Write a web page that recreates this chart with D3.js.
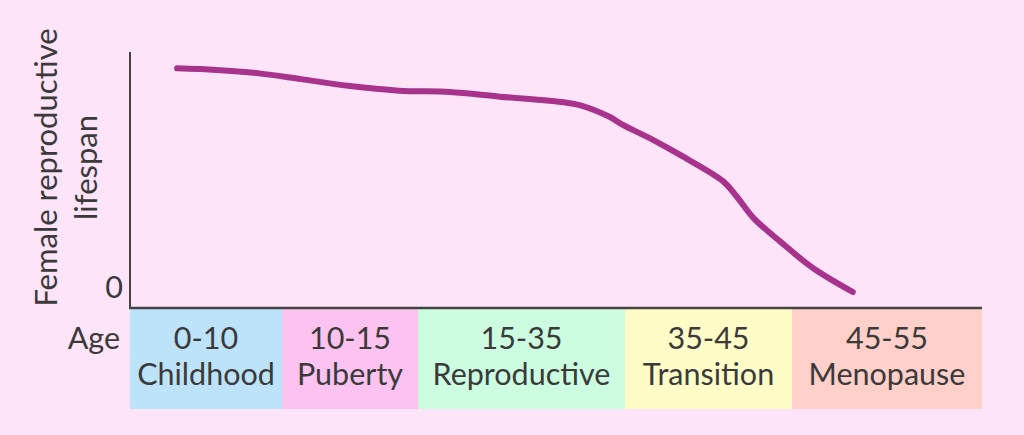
<!DOCTYPE html>
<html><head><meta charset="utf-8">
<script src="https://cdn.jsdelivr.net/npm/d3@7"></script>
<style>html,body{margin:0;padding:0;background:#fee4f8;}svg{display:block;}</style>
</head><body>
<script>
const stageRanges = ["0-10","10-15","15-35","35-45","45-55"];
const stageNames = ["Childhood","Puberty","Reproductive","Transition","Menopause"];
const stageBounds = [0,10,15,35,45,55];
const stageColors = ["#bde3fb","#fdc3f0","#ccfde0","#fffcc8","#ffcfc9"];
const ages = [3.1,5.7,8.5,10.7,12.5,14.3,18.1,22.9,27.7,30.6,33.5,34.8,36.7,38.3,40.9,41.7,42.7,44.3,46.1,48.2];
const lifespan = [93.2,92.5,91.1,88.7,85.8,83.9,83.3,81.4,79.7,77.9,73.0,69.6,63.3,57.1,46.0,39.7,30.8,21.0,10.0,0];
const yTicks = [0];
const yTitle = ["Female reproductive","lifespan"];
const xTitle = "Age";

const W=1024,H=435;
const svg=d3.select("body").append("svg").attr("width",W).attr("height",H);
svg.append("rect").attr("width",W).attr("height",H).attr("fill","#fee4f8");
const font="Lato, 'Open Sans', sans-serif";
const txt="#3a3a3a";
const fs=30.5;

const x=d3.scaleLinear().domain(stageBounds).range([130,282,418,625,792,982]);
const y=d3.scaleLinear().domain([0,100]).range([292,52]);

// stage boxes
const stages=stageRanges.map((r,i)=>({r,n:stageNames[i],a:stageBounds[i],b:stageBounds[i+1],c:stageColors[i]}));
const g=svg.append("g");
g.selectAll("rect.st").data(stages).join("rect").attr("class","st")
 .attr("x",d=>x(d.a)).attr("width",d=>x(d.b)-x(d.a)).attr("y",309).attr("height",100).attr("fill",d=>d.c);
g.selectAll("text.r").data(stages).join("text").attr("class","r")
 .attr("x",d=>(x(d.a)+x(d.b))/2).attr("y",349).attr("text-anchor","middle")
 .attr("font-family",font).attr("font-size",fs).attr("fill",txt).text(d=>d.r);
g.selectAll("text.n").data(stages).join("text").attr("class","n")
 .attr("x",d=>(x(d.a)+x(d.b))/2).attr("y",385).attr("text-anchor","middle")
 .attr("font-family",font).attr("font-size",fs).attr("fill",txt).text(d=>d.n);

svg.append("text").attr("x",120).attr("y",349).attr("text-anchor","end")
 .attr("font-family",font).attr("font-size",fs).attr("fill",txt).text(xTitle);

// axes
svg.append("line").attr("x1",x(0)).attr("x2",x(0)).attr("y1",52).attr("y2",308).attr("stroke","#444").attr("stroke-width",2);
svg.append("line").attr("x1",x(0)-1).attr("x2",x(55)).attr("y1",308).attr("y2",308).attr("stroke","#444").attr("stroke-width",2.5);

svg.selectAll("text.yt").data(yTicks).join("text").attr("class","yt")
 .attr("x",123).attr("y",d=>y(d)+6).attr("text-anchor","end")
 .attr("font-family",font).attr("font-size",fs).attr("fill",txt).text(d=>d);

const yt=svg.append("text").attr("transform","translate(0,167.5) rotate(-90)").attr("text-anchor","middle")
 .attr("font-family",font).attr("font-size",31).attr("fill",txt);
yt.selectAll("tspan").data(yTitle).join("tspan").attr("x",0).attr("y",(d,i)=>57+i*40).text(d=>d);

// curve
const pts=ages.map((a,i)=>[a,lifespan[i]]);
svg.append("path").datum(pts)
 .attr("d",d3.line().x(d=>x(d[0])).y(d=>y(d[1])).curve(d3.curveCatmullRom.alpha(0.5)))
 .attr("fill","none").attr("stroke","#a8338c").attr("stroke-width",6).attr("stroke-linecap","round");
</script>
</body></html>
